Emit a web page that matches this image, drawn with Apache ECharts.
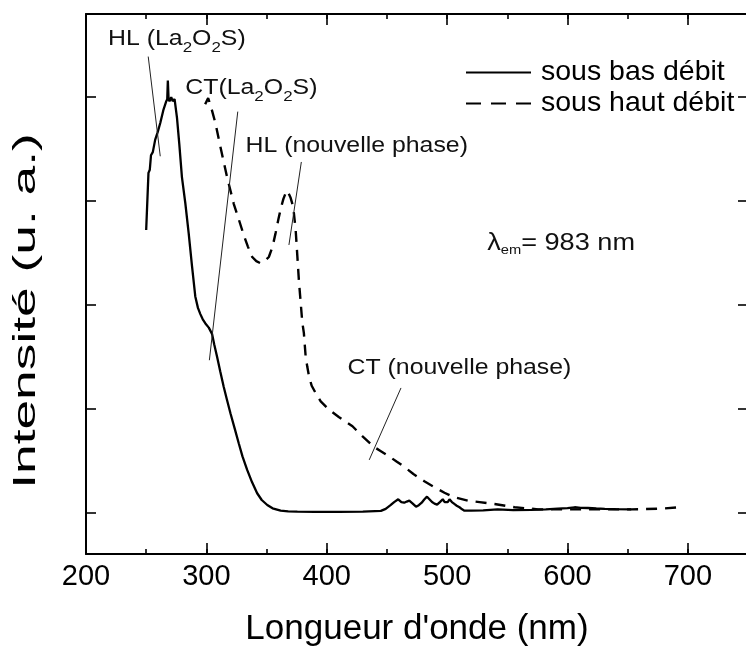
<!DOCTYPE html>
<html><head><meta charset="utf-8">
<script src="https://cdn.jsdelivr.net/npm/echarts@6/dist/echarts.min.js"></script>
<style>html,body{margin:0;padding:0;background:#fff}#c{width:746px;height:646px}</style>
</head><body><div id="c"></div>
<script>
// ---- data ----
const xTickLabels = [200, 300, 400, 500, 600, 700];
const seriesNames = ['sous bas débit', 'sous haut débit'];

const basX = [250, 251.9, 253, 254, 255.5, 257.5, 259.5, 261.7, 264.4, 266.7, 267.5, 268, 268.6, 269.4, 270.8, 272, 273.6, 275.6, 277.5, 279.7, 282.5, 285.3, 288.1, 290.8, 293, 295, 297, 299.2, 302, 304.7, 306.5, 308.9, 311.5, 314.4, 317, 320, 323.5, 326.9, 330, 333.9, 338, 342.2, 346, 350.6, 355, 361.7, 368, 375.6, 390, 410, 430, 445, 449, 453, 456, 459.4, 462, 464.4, 466.5, 468.6, 471, 474.2, 476.5, 478.9, 481, 483.3, 485.5, 487.5, 489.5, 491.7, 494, 496.4, 498, 499.2, 500.5, 502, 504, 506, 508, 510.3, 512.5, 514.4, 520, 530, 542, 555, 570, 582, 592, 600, 606, 611, 617, 624, 631, 640, 653];
const basY = [2.72, 3.27, 3.30, 3.44, 3.47, 3.59, 3.66, 3.75, 3.88, 3.96, 3.98, 4.16, 3.98, 3.96, 4.0, 3.96, 3.98, 3.80, 3.55, 3.23, 2.98, 2.69, 2.37, 2.08, 1.97, 1.91, 1.86, 1.82, 1.78, 1.72, 1.62, 1.50, 1.36, 1.21, 1.09, 0.955, 0.81, 0.666, 0.54, 0.41, 0.29, 0.185, 0.12, 0.072, 0.04, 0.017, 0.01, 0.008, 0.006, 0.006, 0.008, 0.015, 0.035, 0.07, 0.10, 0.127, 0.10, 0.094, 0.105, 0.114, 0.09, 0.056, 0.07, 0.094, 0.125, 0.152, 0.125, 0.10, 0.085, 0.075, 0.10, 0.127, 0.10, 0.082, 0.10, 0.127, 0.10, 0.082, 0.065, 0.05, 0.03, 0.017, 0.018, 0.02, 0.03, 0.022, 0.024, 0.03, 0.037, 0.042, 0.05, 0.045, 0.043, 0.038, 0.034, 0.032, 0.03];

const hautX = [299, 301.5, 304, 307.5, 311.7, 317.2, 322.8, 327, 331.1, 334.5, 338.1, 341.5, 345, 348.5, 351.9, 355, 357.5, 359.8, 361.7, 364, 366, 367.2, 368.5, 370, 372.2, 374.2, 376.9, 379.7, 381, 382.5, 383.9, 385.3, 387.5, 390.8, 395, 401.9, 410, 421.4, 430, 439.4, 445, 451.9, 458, 464.4, 472, 481.1, 490, 497.8, 505, 517.2, 527, 539.4, 556, 575.6, 597.8, 625.6, 653, 678, 692];
const hautY = [3.93, 3.99, 3.90, 3.75, 3.52, 3.23, 2.97, 2.82, 2.67, 2.56, 2.46, 2.42, 2.40, 2.42, 2.46, 2.56, 2.69, 2.82, 2.92, 3.02, 3.08, 3.10, 3.09, 3.03, 2.94, 2.72, 2.23, 1.83, 1.73, 1.50, 1.40, 1.31, 1.22, 1.15, 1.07, 0.99, 0.92, 0.83, 0.73, 0.63, 0.59, 0.54, 0.49, 0.44, 0.37, 0.30, 0.24, 0.19, 0.15, 0.114, 0.10, 0.082, 0.05, 0.03, 0.03, 0.03, 0.03, 0.037, 0.05];

// annotations (data coordinates: wavelength, intensity)
const annotationTexts = ['HL (La{s|2}O{s|2}S)', 'CT(La{s|2}O{s|2}S)', 'HL (nouvelle phase)', 'CT (nouvelle phase)', 'λ{e|em}= 983 nm'];
const annotationAnchors = [[218.3, 4.56], [282.5, 4.085], [332.5, 3.534], [417.3, 1.391], [533.3, 2.595]];
const leaderFrom = [[251.7, 4.39], [326.1, 3.86], [378.9, 3.375], [461.7, 1.199]];
const leaderTo = [[261.7, 3.43], [302.5, 1.466], [368.6, 2.576], [435.3, 0.506]];

const FONT = 'Liberation Sans, Arial, sans-serif';
const chart = echarts.init(document.getElementById('c'), null, {renderer: 'canvas'});

function xAx(pos, interval, len, showLine, showLabel) {
  return {
    type: 'value', min: 200, max: 750, interval: interval, position: pos,
    axisLine: {show: showLine, onZero: false, lineStyle: {color: '#000', width: 2}},
    axisTick: {show: true, inside: true, length: len, lineStyle: {color: '#000', width: 1.6}},
    axisLabel: {show: showLabel, fontSize: 29, color: '#000', fontFamily: FONT, margin: 8, showMaxLabel: false,
      formatter: v => xTickLabels.indexOf(v) >= 0 ? String(v) : ''},
    splitLine: {show: false}
  };
}
function yAx(pos, showLine) {
  return {
    type: 'value', min: -0.4, max: 4.8, minInterval: 1, maxInterval: 1, position: pos,
    axisLine: {show: showLine, onZero: false, lineStyle: {color: '#000', width: 2}},
    axisTick: {show: true, inside: true, length: 10, lineStyle: {color: '#000', width: 1.6}},
    axisLabel: {show: false}, splitLine: {show: false}
  };
}
const xMain = xAx('bottom', 50, 5, true, true);
xMain.name = "Longueur d'onde (nm)";
xMain.nameLocation = 'middle';
xMain.nameGap = 58;
xMain.nameTextStyle = {fontSize: 35, color: '#000', fontFamily: FONT};

chart.setOption({
  animation: false,
  backgroundColor: '#fff',
  grid: {left: 86, right: -2, top: 14, bottom: 92, containLabel: false, outerBoundsMode: 'none'},
  xAxis: [xMain, xAx('bottom', 100, 11, false, false), xAx('top', 50, 5, true, false), xAx('top', 100, 11, false, false)],
  yAxis: [yAx('left', true), yAx('right', false)],
  legend: {
    orient: 'vertical', left: 465, top: 58, itemWidth: 65, itemHeight: 14, itemGap: 2, padding: 0,
    itemStyle: {opacity: 0},
    textStyle: {fontSize: 28.5, color: '#000', fontFamily: FONT, padding: [0, 0, 0, 5]},
    data: [{name: seriesNames[0], itemStyle: {opacity: 0}},
           {name: seriesNames[1], itemStyle: {opacity: 0}, lineStyle: {type: [15, 10]}}]
  },
  series: [
    {name: seriesNames[0], type: 'line', xAxisIndex: 0, yAxisIndex: 0, symbol: 'none',
     data: basX.map((x, i) => [x, basY[i]]),
     lineStyle: {color: '#000', width: 2.3}, itemStyle: {color: '#000'},
     markLine: {silent: true, symbol: ['none', 'none'], label: {show: false},
       lineStyle: {color: '#222', width: 1, type: 'solid'},
       data: leaderFrom.map((f, i) => [{coord: f}, {coord: leaderTo[i]}])}},
    {name: seriesNames[1], type: 'line', xAxisIndex: 0, yAxisIndex: 0, symbol: 'none',
     data: hautX.map((x, i) => [x, hautY[i]]),
     lineStyle: {color: '#000', width: 2.4, type: [11, 8]}, itemStyle: {color: '#000'}}
  ]
});

const graphics = annotationTexts.map((t, i) => {
  const p = chart.convertToPixel({seriesIndex: 0}, annotationAnchors[i]);
  const big = i === 4;
  return {
    type: 'text', x: p[0], y: p[1], scaleX: 1.13, silent: true,
    style: {
      text: t, fill: '#111', fontSize: big ? 24 : 22, fontFamily: FONT, align: 'left', verticalAlign: 'middle',
      rich: {
        s: {fontSize: 15, fontFamily: FONT, fill: '#111', padding: [18, 0, 0, 0]},
        e: {fontSize: 13, fontFamily: FONT, fill: '#111', padding: [14, 0, 0, 0]}
      }
    }
  };
});
graphics.push({
  type: 'text', x: 26, y: 311, rotation: Math.PI / 2, scaleX: 1.72, silent: true,
  style: {text: 'Intensité (u. a.)', fill: '#000', fontSize: 31, fontFamily: FONT, align: 'center', verticalAlign: 'middle'}
});
chart.setOption({graphic: graphics});
</script>
</body></html>
